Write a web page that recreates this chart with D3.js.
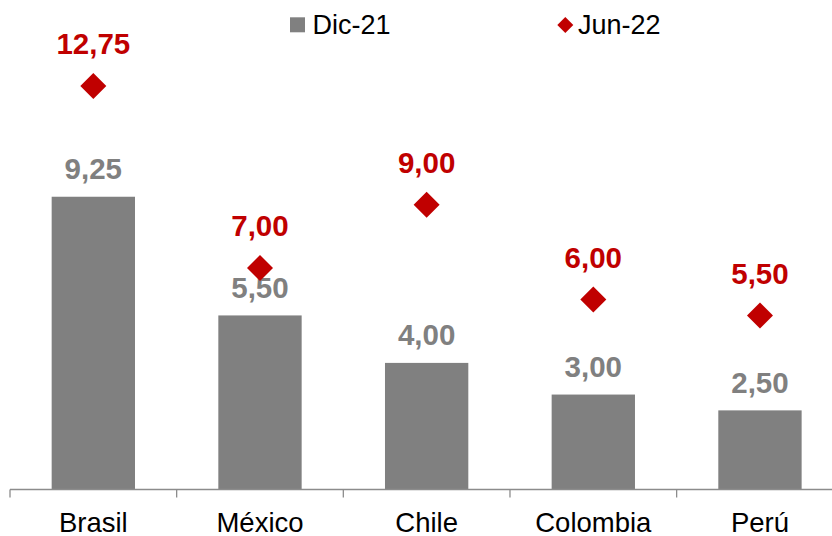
<!DOCTYPE html>
<html>
<head>
<meta charset="utf-8">
<script src="https://cdn.jsdelivr.net/npm/d3@7"></script>
<style>
  html, body { margin: 0; padding: 0; background: #fff; }
  svg { display: block; }
  text { font-family: "Liberation Sans", Arial, sans-serif; }
</style>
</head>
<body>
<svg id="chart" width="832" height="536"></svg>
<script>
// Policy rates by country
const categories = ["Brasil", "México", "Chile", "Colombia", "Perú"];
const dic21 = [9.25, 5.50, 4.00, 3.00, 2.50];
const jun22 = [12.75, 7.00, 9.00, 6.00, 5.50];
const seriesNames = ["Dic-21", "Jun-22"];

const baseY = 489.5;
const gray = "#808080";
const red = "#C00000";

const svg = d3.select("#chart");

const x = d3.scaleBand().domain(categories).range([10, 843.3]).padding(0);
const y = d3.scaleLinear().domain([0, 14]).range([baseY, baseY - 14 * 31.65]);

const fmt = d3.formatLocale({ decimal: ",", thousands: ".", grouping: [3], currency: ["", ""] }).format(".2f");

const bw = x.bandwidth() / 2;
const cx = d => x(d) + x.bandwidth() / 2;

// Bars (Dic-21)
svg.append("g").selectAll("rect")
  .data(categories)
  .join("rect")
  .attr("x", d => cx(d) - bw / 2)
  .attr("width", bw)
  .attr("y", (d, i) => y(dic21[i]))
  .attr("height", (d, i) => baseY - y(dic21[i]))
  .attr("fill", gray);

// Bar value labels
svg.append("g").selectAll("text")
  .data(categories)
  .join("text")
  .attr("x", d => cx(d))
  .attr("y", (d, i) => y(dic21[i]) - 17.5)
  .attr("text-anchor", "middle")
  .attr("font-size", 29.5)
  .attr("font-weight", "bold")
  .attr("fill", gray)
  .text((d, i) => fmt(dic21[i]));

// Diamond markers (Jun-22)
const diamond = d3.symbol(d3.symbolSquare, 338);
svg.append("g").selectAll("path")
  .data(categories)
  .join("path")
  .attr("d", diamond)
  .attr("transform", (d, i) => `translate(${cx(d)},${y(jun22[i])}) rotate(45)`)
  .attr("fill", red);

// Marker value labels
svg.append("g").selectAll("text")
  .data(categories)
  .join("text")
  .attr("x", d => cx(d))
  .attr("y", (d, i) => y(jun22[i]) - 31.5)
  .attr("text-anchor", "middle")
  .attr("font-size", 29.5)
  .attr("font-weight", "bold")
  .attr("fill", red)
  .text((d, i) => fmt(jun22[i]));

// Category axis with ticks on band boundaries
const axisG = svg.append("g").attr("transform", `translate(0,${baseY})`);
axisG.call(d3.axisBottom(x).tickSize(0).tickPadding(0))
  .call(g => g.select(".domain").attr("stroke", "#8c8c8c").attr("stroke-width", 1.3)
    .attr("d", `M${x.range()[0]},0H${x.range()[1]}`))
  .call(g => g.selectAll(".tick text")
    .attr("y", 42)
    .attr("dy", 0)
    .attr("font-size", 27.5)
    .attr("font-family", "Liberation Sans, Arial, sans-serif")
    .attr("fill", "#000"));
const bounds = categories.map(d => x(d)).concat([x.range()[1]]);
axisG.selectAll("line.bound")
  .data(bounds)
  .join("line")
  .attr("class", "bound")
  .attr("x1", d => d).attr("x2", d => d)
  .attr("y1", 0).attr("y2", 8)
  .attr("stroke", "#8c8c8c")
  .attr("stroke-width", 1.3);

// Legend
const legend = svg.append("g");
legend.append("rect")
  .attr("x", 290).attr("y", 17.3).attr("width", 15).attr("height", 15)
  .attr("fill", gray);
legend.append("text")
  .attr("x", 312.5).attr("y", 33.5)
  .attr("font-size", 27).attr("fill", "#000")
  .text(seriesNames[0]);
legend.append("path")
  .attr("d", d3.symbol(d3.symbolSquare, 128))
  .attr("transform", "translate(565.3,25) rotate(45)")
  .attr("fill", red);
legend.append("text")
  .attr("x", 578).attr("y", 33.5)
  .attr("font-size", 27).attr("fill", "#000")
  .text(seriesNames[1]);
</script>
</body>
</html>
